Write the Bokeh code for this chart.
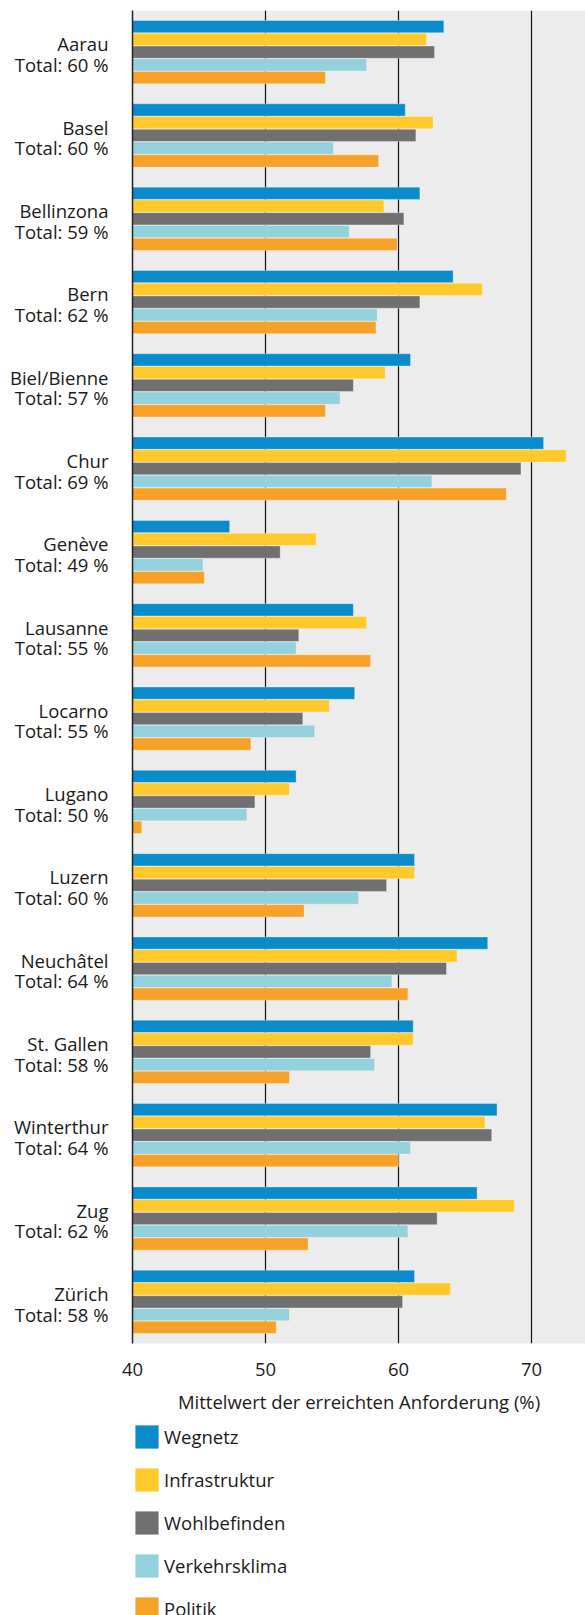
from bokeh.plotting import figure
from bokeh.models import (ColumnDataSource, Range1d, Legend, LegendItem, FixedTicker)
from bokeh.layouts import column
from bokeh.transform import dodge
from bokeh.embed import file_html
from bokeh.resources import INLINE

cities = ["Aarau", "Basel", "Bellinzona", "Bern", "Biel/Bienne", "Chur", "Genève",
          "Lausanne", "Locarno", "Lugano", "Luzern", "Neuchâtel", "St. Gallen",
          "Winterthur", "Zug", "Zürich"]
totals = [60, 60, 59, 62, 57, 69, 49, 55, 55, 50, 60, 64, 58, 64, 62, 58]

wegnetz = [63.4, 60.5, 61.6, 64.1, 60.9, 70.9, 47.3, 56.6, 56.7, 52.3, 61.2, 66.7, 61.1, 67.4, 65.9, 61.2]
infrastruktur = [62.1, 62.6, 58.9, 66.3, 59.0, 72.6, 53.8, 57.6, 54.8, 51.8, 61.2, 64.4, 61.1, 66.5, 68.7, 63.9]
wohlbefinden = [62.7, 61.3, 60.4, 61.6, 56.6, 69.2, 51.1, 52.5, 52.8, 49.2, 59.1, 63.6, 57.9, 67.0, 62.9, 60.3]
verkehrsklima = [57.6, 55.1, 56.3, 58.4, 55.6, 62.5, 45.3, 52.3, 53.7, 48.6, 57.0, 59.5, 58.2, 60.9, 60.7, 51.8]
politik = [54.5, 58.5, 59.9, 58.3, 54.5, 68.1, 45.4, 57.9, 48.9, 40.7, 52.9, 60.7, 51.8, 60.0, 53.2, 50.8]

series_names = ["Wegnetz", "Infrastruktur", "Wohlbefinden", "Verkehrsklima", "Politik"]
series_values = [wegnetz, infrastruktur, wohlbefinden, verkehrsklima, politik]
colors = ["#0a8bcc", "#ffc92b", "#707070", "#93d2dc", "#f6a127"]
x_ticks = [40, 50, 60, 70]
grid_ticks = [50, 60, 70]
x_title = "Mittelwert der erreichten Anforderung (%)"

FONT = "Open Sans"
FS = "18.5px"
TXT = "#1a1a1a"

n_cat = len(cities)
# category slots: first city at the top
slot = [n_cat - i - 0.5 for i in range(n_cat)]

data = {"city": cities, "slot": slot}
for n, v in zip(series_names, series_values):
    data[n] = v
src = ColumnDataSource(data)

p = figure(width=585, height=1422,
           y_range=Range1d(0, n_cat),
           x_range=Range1d(40, 74.05),
           output_backend="svg", toolbar_location=None,
           min_border_left=132, min_border_right=0,
           min_border_top=10, min_border_bottom=79)

p.background_fill_color = "#ececec"
p.border_fill_color = "white"
p.outline_line_color = None

pitch = 0.1532
offsets = [2 * pitch, pitch, 0, -pitch, -2 * pitch]
for n, c, off in zip(series_names, colors, offsets):
    p.hbar(y=dodge("slot", off), left=40, right=n, height=0.147,
           source=src, fill_color=c, line_color="white", line_alpha=0.45, line_width=0.7)

# grid
p.ygrid.grid_line_color = None
p.xgrid.ticker = FixedTicker(ticks=grid_ticks)
p.xgrid.grid_line_color = "#111111"
p.xgrid.grid_line_width = 1.2

# two-line category labels on the y axis
d_up = 0.10
d_dn = 0.148
tick_pos = []
overrides = {}
for s, c, t in zip(slot, cities, totals):
    top = round(s + d_up, 4)
    bot = round(s - d_dn, 4)
    tick_pos += [top, bot]
    overrides[top] = c
    overrides[bot] = f"Total: {t} %"
    overrides[str(top)] = c
    overrides[str(bot)] = f"Total: {t} %"
yax = p.yaxis[0]
yax.ticker = FixedTicker(ticks=sorted(tick_pos))
yax.major_label_overrides = overrides
yax.major_tick_line_color = None
yax.minor_tick_line_color = None
yax.axis_line_color = "#222222"
yax.axis_line_width = 1.5
yax.major_label_standoff = 18
yax.major_label_text_font = FONT
yax.major_label_text_font_size = FS
yax.major_label_text_color = TXT

# x axis
xax = p.xaxis[0]
xax.ticker = FixedTicker(ticks=x_ticks)
xax.axis_line_color = None
xax.major_tick_line_color = None
xax.minor_tick_line_color = None
xax.major_label_standoff = 13
xax.major_label_text_font = FONT
xax.major_label_text_font_size = FS
xax.major_label_text_color = TXT
xax.axis_label = x_title
xax.axis_label_standoff = 10
xax.axis_label_text_font = FONT
xax.axis_label_text_font_size = FS
xax.axis_label_text_font_style = "normal"
xax.axis_label_text_color = TXT

# legend panel (separate figure stacked below; its bars fall outside its view)
lg = figure(width=585, height=193, x_range=Range1d(0, 1), y_range=Range1d(0, 1),
            x_axis_location=None, y_axis_location=None,
            output_backend="svg", toolbar_location=None,
            min_border_left=129, min_border_right=0,
            min_border_top=0, min_border_bottom=0)
lg.outline_line_color = None
lg.background_fill_color = "white"
lg.border_fill_color = "white"
lg.xgrid.grid_line_color = None
lg.ygrid.grid_line_color = None
items = []
for n, c in zip(series_names, colors):
    r = lg.hbar(y="slot", left=40, right=n, height=0.1, source=src, fill_color=c,
                line_color=None)
    items.append(LegendItem(label=n, renderers=[r]))
legend = Legend(items=items, location="top_left", orientation="vertical",
                glyph_width=29, glyph_height=29, label_height=29, spacing=14,
                label_standoff=3, padding=0, margin=0,
                border_line_color=None, background_fill_alpha=0,
                label_text_font=FONT, label_text_font_size=FS,
                label_text_color=TXT)
lg.add_layout(legend)

layout = column(p, lg, spacing=0)
open("out.html", "w").write(file_html(layout, INLINE))
